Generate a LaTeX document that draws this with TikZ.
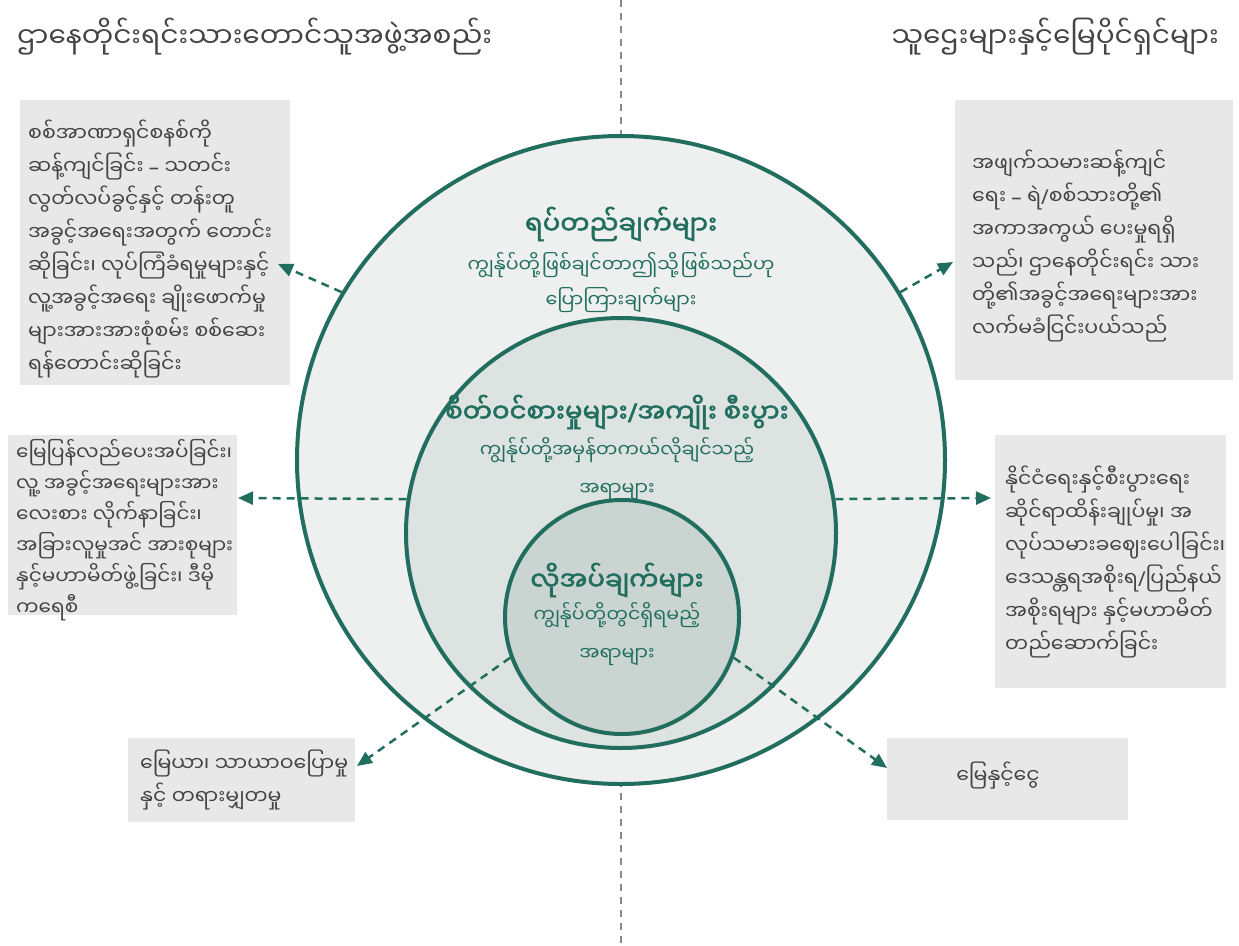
\documentclass[tikz,border=0pt]{standalone}
\usepackage{fontspec}
\usetikzlibrary{arrows.meta}
\newfontfamily\mm[Script=Myanmar]{Noto Sans Myanmar UI}
\newfontfamily\mmb[Script=Myanmar,FakeBold=2]{Noto Sans Myanmar UI}
\newfontfamily\lat{Noto Sans}
\newfontfamily\latb[FakeBold=2]{Noto Sans}
\newcommand{\sls}{{\lat/}}
\newcommand{\slb}{{\latb/}}
\newcommand{\dsh}{{\lat –}}
\definecolor{grn}{HTML}{226E5E}
\definecolor{txt}{HTML}{444444}
\definecolor{boxg}{HTML}{E8E8E8}
\definecolor{cA}{HTML}{EEF0EF}
\definecolor{cB}{HTML}{DCE3E1}
\definecolor{cC}{HTML}{CAD4D1}
\definecolor{sep}{HTML}{8A8A8A}
\tikzset{
  ring/.style={circle, draw=grn, line width=4pt, inner sep=0pt},
  greybox/.style={rectangle, fill=boxg, draw=none, anchor=north west, inner sep=0pt},
  boxtext/.style={anchor=west, align=left, inner sep=0pt, text=txt, font=\mm\fontsize{20.5}{33}\selectfont},
  headtext/.style={text=txt, inner sep=0pt, font=\mm\fontsize{28}{32}\selectfont},
  ctitle/.style={text=grn, inner sep=0pt, font=\mmb\fontsize{26}{30}\selectfont},
  csub/.style={text=grn, inner sep=0pt, align=center, font=\mm\fontsize{19}{38}\selectfont},
  link/.style={draw=grn, line width=2.5pt, dash pattern=on 8pt off 6pt, -{Triangle[length=15pt,width=13pt]}}
}
\begin{document}
\begin{tikzpicture}[x=1pt,y=-1pt]
\useasboundingbox (0,0) rectangle (1239,945);
% separator
\coordinate (sepT) at (621,0);
\coordinate (sepB) at (621,945);
\draw[sep, line width=2pt, dash pattern=on 7pt off 6pt] (sepT) -- (sepB);
% headings
\node[headtext, anchor=west] (hl) at (17,37) {ဌာနေတိုင်းရင်းသားတောင်သူအဖွဲ့အစည်း};
\node[headtext, anchor=east] (hr) at (1219,37) {သူဌေးများနှင့်မြေပိုင်ရှင်များ};
% circles
\node[ring, fill=cA, minimum size=648pt] (outer) at (621,460) {};
\node[ring, fill=cB, minimum size=430pt] (middle) at (621,533) {};
\node[ring, fill=cC, minimum size=234pt] (inner) at (622,617) {};
% circle texts
\node[ctitle] (t1) at (621,224) {ရပ်တည်ချက်များ};
\node[csub, anchor=north, font=\mm\fontsize{19}{35}\selectfont] (s1) at (621,252) {ကျွန်ုပ်တို့ဖြစ်ချင်တာဤသို့ဖြစ်သည်ဟု\\ပြောကြားချက်များ};
\node[ctitle] (t2) at (617,412) {စိတ်ဝင်စားမှုများ\slb အကျိုး စီးပွား};
\node[csub, anchor=north] (s2) at (617,437) {ကျွန်ုပ်တို့အမှန်တကယ်လိုချင်သည့်\\အရာများ};
\node[ctitle] (t3) at (617,580) {လိုအပ်ချက်များ};
\node[csub, anchor=north] (s3) at (617,602) {ကျွန်ုပ်တို့တွင်ရှိရမည့်\\အရာများ};
% boxes
\node[greybox, minimum width=270pt, minimum height=285pt] (tl) at (20,100) {};
\node[greybox, minimum width=278pt, minimum height=280pt] (tr) at (955,100) {};
\node[greybox, minimum width=229pt, minimum height=180pt] (ml) at (8,435) {};
\node[greybox, minimum width=231pt, minimum height=253pt] (mr) at (995,435) {};
\node[greybox, minimum width=227pt, minimum height=84pt] (bl) at (128,738) {};
\node[greybox, minimum width=241pt, minimum height=82pt] (br) at (887,738) {};
% box texts
\node[boxtext] (tlt) at (28,249) {စစ်အာဏာရှင်စနစ်ကို\\ဆန့်ကျင်ခြင်း \dsh{} သတင်း\\လွတ်လပ်ခွင့်နှင့် တန်းတူ\\အခွင့်အရေးအတွက် တောင်း\\ဆိုခြင်း၊ လုပ်ကြံခံရမှုများနှင့်\\လူ့အခွင့်အရေး ချိုးဖောက်မှု\\များအားအားစုံစမ်း စစ်ဆေး\\ရန်တောင်းဆိုခြင်း};
\node[boxtext] (trt) at (972,246) {အဖျက်သမားဆန့်ကျင်\\ရေး \dsh{} ရဲ\sls စစ်သားတို့၏\\အကာအကွယ် ပေးမှုရရှိ\\သည်၊ ဌာနေတိုင်းရင်း သား\\တို့၏အခွင့်အရေးများအား\\လက်မခံငြင်းပယ်သည်};
\node[boxtext, font=\mm\fontsize{20}{31}\selectfont] (mlt) at (16,530) {မြေပြန်လည်ပေးအပ်ခြင်း၊\\လူ့ အခွင့်အရေးများအား\\လေးစား လိုက်နာခြင်း၊\\အခြားလူမှုအင် အားစုများ\\နှင့်မဟာမိတ်ဖွဲ့ခြင်း၊ ဒီမို\\ကရေစီ};
\node[boxtext] (mrt) at (1005,562) {နိုင်ငံရေးနှင့်စီးပွားရေး\\ဆိုင်ရာထိန်းချုပ်မှု၊ အ\\ လုပ်သမားခဈေးပေါခြင်း၊\\ဒေသန္တရအစိုးရ\sls ပြည်နယ်\\အစိုးရများ နှင့်မဟာမိတ်\\တည်ဆောက်ခြင်း};
\node[boxtext] (blt) at (140,780) {မြေယာ၊ သာယာဝပြောမှု\\နှင့် တရားမျှတမှု};
\node[boxtext, anchor=center] (brt) at (998,775) {မြေနှင့်ငွေ};
% arrow tips
\coordinate (aTL) at (278,264);
\coordinate (aTR) at (953,262);
\coordinate (aML) at (238,498);
\coordinate (aMR) at (991,498);
\coordinate (aBL) at (357,766);
\coordinate (aBR) at (887,768);
\draw[link] (outer.149) -- (aTL);
\draw[link] (outer.31) -- (aTR);
\draw[link] (middle.171) -- (aML);
\draw[link] (middle.9) -- (aMR);
\draw[link] (inner.200) -- (aBL);
\draw[link] (inner.340) -- (aBR);
\end{tikzpicture}
\end{document}
